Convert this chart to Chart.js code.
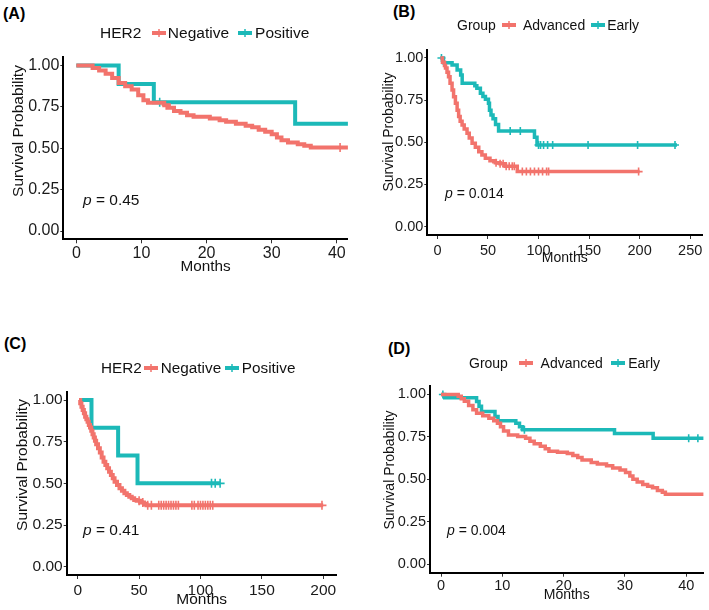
<!DOCTYPE html>
<html>
<head>
<meta charset="utf-8">
<script src="https://cdn.jsdelivr.net/npm/chart.js@4.4.1/dist/chart.umd.min.js"></script>
<style>
  html, body { margin: 0; padding: 0; background: #fff; }
  #fig { position: relative; width: 709px; height: 610px; overflow: hidden;
         font-family: "Liberation Sans", Arial, sans-serif; color: #111; }
  #fig canvas { position: absolute; }
  .t { position: absolute; white-space: nowrap; line-height: 20px; }
  .tag { font-weight: bold; font-size: 16px; color: #000; }
  .ylab { line-height: normal; transform: translate(-50%, -50%) rotate(-90deg); }
  .leg { display: flex; align-items: center; }
  .leg svg { display: block; }
</style>
</head>
<body>
<div id="fig">
  <canvas id="cA"></canvas>
  <canvas id="cB"></canvas>
  <canvas id="cC"></canvas>
  <canvas id="cD"></canvas>

  <div class="t tag" style="left:3px;top:4px">(A)</div>
  <div class="t tag" style="left:393px;top:2px">(B)</div>
  <div class="t tag" style="left:4px;top:334px">(C)</div>
  <div class="t tag" style="left:388px;top:339px">(D)</div>

  <div class="t leg" id="legA" style="left:100px;top:23px;font-size:15.5px"></div>
  <div class="t leg" id="legB" style="left:457px;top:15px;font-size:14px"></div>
  <div class="t leg" id="legC" style="left:101px;top:358px;font-size:15.3px"></div>
  <div class="t leg" id="legD" style="left:469px;top:353px;font-size:14px"></div>

  <div class="t" style="left:83px;top:190px;font-size:15.5px"><i>p</i> = 0.45</div>
  <div class="t" style="left:445px;top:183px;font-size:14px"><i>p</i> = 0.014</div>
  <div class="t" style="left:83px;top:520px;font-size:15.5px"><i>p</i> = 0.41</div>
  <div class="t" style="left:447px;top:520px;font-size:14px"><i>p</i> = 0.004</div>

  <div class="t ylab" style="left:18px;top:131px;font-size:15.5px">Survival Probability</div>
  <div class="t ylab" style="left:388px;top:132px;font-size:14px">Survival Probability</div>
  <div class="t ylab" style="left:22px;top:465px;font-size:15.5px">Survival Probability</div>
  <div class="t ylab" style="left:389px;top:470px;font-size:14px">Survival Probability</div>
</div>

<script>
const RED = '#F2736C';
const TEAL = '#1CB9B8';
const FONT = "'Liberation Sans', Arial, sans-serif";

const yTicks = [0, 0.25, 0.5, 0.75, 1];

// (A) HER2
const aTicks = [0, 10, 20, 30, 40];
const aNegTime = [0, 2.5, 3.5, 4.5, 5.5, 6.5, 7.5, 8.5, 9.5, 10.3, 11, 13.5, 14.2, 15, 16, 17, 18, 20.5, 22, 23, 24.5, 26, 27, 28, 29, 30, 30.8, 31.5, 32.5, 34, 35, 36, 42];
const aNegSurv = [1, 0.985, 0.97, 0.95, 0.925, 0.895, 0.875, 0.855, 0.82, 0.79, 0.775, 0.76, 0.745, 0.725, 0.715, 0.7, 0.69, 0.68, 0.67, 0.66, 0.648, 0.637, 0.627, 0.612, 0.6, 0.585, 0.565, 0.548, 0.535, 0.525, 0.515, 0.505, 0.505];
const aNegCens = [13.8, 40.5];
const aPosTime = [0, 6.5, 11.9, 33.6, 42];
const aPosSurv = [1, 0.889, 0.778, 0.648, 0.648];
const aPosCens = [12.8];

// (B) Group
const bTicks = [0, 50, 100, 150, 200, 250];
const bAdvTime = [3, 5, 7, 8, 9.5, 11, 12.5, 14.5, 16, 17.8, 19.5, 21, 22.5, 24.4, 26.5, 29.3, 31.5, 34.3, 37.5, 40.9, 44, 47.4, 52, 57.3, 62, 67.2, 79, 200];
const bAdvSurv = [1, 0.975, 0.955, 0.94, 0.915, 0.889, 0.85, 0.81, 0.77, 0.731, 0.69, 0.652, 0.625, 0.603, 0.578, 0.553, 0.525, 0.494, 0.47, 0.444, 0.425, 0.405, 0.39, 0.379, 0.372, 0.358, 0.326, 0.326];
const bAdvCens = [58, 62, 65, 68, 71, 74, 76, 84, 88, 92, 96, 100, 104, 108, 110, 199];
const bEarTime = [3, 6, 14.5, 19.5, 23, 24.5, 37, 39, 42.5, 45, 47.5, 50.5, 51.5, 53, 55, 57.5, 60.5, 94, 96, 98.5, 237];
const bEarSurv = [1, 0.972, 0.958, 0.929, 0.899, 0.85, 0.835, 0.82, 0.79, 0.772, 0.755, 0.731, 0.69, 0.662, 0.64, 0.605, 0.567, 0.567, 0.53, 0.484, 0.484];
const bEarCens = [4, 72, 82, 100, 102, 105, 109, 114, 149, 198, 235];

// (C) HER2
const cTicks = [0, 50, 100, 150, 200];
const cNegTime = [1, 2, 3, 4, 5, 6, 7, 8, 9, 10, 11, 12, 13, 14, 15, 16.5, 18, 19.5, 21, 22.5, 24, 25.5, 27, 28.5, 30, 32, 34, 36, 38, 40, 42, 44, 46, 48, 51, 54, 56, 200];
const cNegSurv = [1, 0.98, 0.96, 0.94, 0.92, 0.9, 0.885, 0.87, 0.85, 0.835, 0.815, 0.795, 0.775, 0.755, 0.735, 0.71, 0.685, 0.655, 0.63, 0.61, 0.59, 0.57, 0.55, 0.53, 0.51, 0.49, 0.47, 0.455, 0.44, 0.43, 0.42, 0.41, 0.4, 0.395, 0.385, 0.375, 0.368, 0.368];
const cNegCens = [50, 53, 57, 60, 66, 68, 70, 72, 74, 76, 78, 80, 82, 93, 95, 98, 100, 102, 104, 106, 108, 110, 199];
const cPosTime = [1, 11.2, 32.9, 48.7, 116];
const cPosSurv = [1, 0.833, 0.667, 0.5, 0.5];
const cPosCens = [109, 112, 116];

// (D) Group
const dTicks = [0, 10, 20, 30, 40];
const dAdvTime = [0, 2.8, 3.3, 3.8, 4.5, 5.2, 5.8, 6.8, 7.8, 8.6, 9.2, 9.7, 10.2, 11, 12.5, 13.8, 14.5, 15.2, 16.2, 17, 17.6, 19, 20.6, 21.5, 22.3, 23, 24.5, 25.5, 27, 28, 29.2, 30.1, 30.8, 31.3, 32, 32.9, 33.7, 34.5, 35.3, 36.1, 36.6, 43];
const dAdvSurv = [1, 0.99, 0.975, 0.96, 0.935, 0.91, 0.889, 0.875, 0.86, 0.845, 0.83, 0.81, 0.785, 0.762, 0.752, 0.742, 0.725, 0.71, 0.695, 0.68, 0.665, 0.66, 0.652, 0.64, 0.628, 0.614, 0.6, 0.59, 0.58, 0.567, 0.555, 0.54, 0.52, 0.5, 0.485, 0.47, 0.46, 0.45, 0.435, 0.424, 0.412, 0.412];
const dAdvCens = [];
const dEarTime = [0, 0.6, 5.8, 6.2, 6.6, 8.8, 9.3, 12.2, 12.8, 13.3, 28.3, 34.6, 43];
const dEarSurv = [1, 0.981, 0.958, 0.93, 0.9, 0.87, 0.845, 0.83, 0.81, 0.792, 0.77, 0.742, 0.742];
const dEarCens = [0.3, 13.6, 40.4, 41.9];

// survival value in force at time t
function survAt(time, surv, t) {
    let v = surv[0];
    for (let i = 0; i < time.length; i++) {
        if (time[i] <= t) v = surv[i];
    }
    return v;
}

function keySvg(color) {
    return `<svg width="14" height="12"><line x1="0" y1="6" x2="14" y2="6" stroke="${color}" stroke-width="4"/>` +
           `<line x1="7" y1="2" x2="7" y2="10" stroke="${color}" stroke-width="1.5"/></svg>`;
}

function buildLegend(id, title, names, gaps) {
    const el = document.getElementById(id);
    el.innerHTML =
        `<span style="margin-right:${gaps[0]}px">${title}</span>` + keySvg(RED) +
        `<span style="margin-left:${gaps[1]}px;margin-right:${gaps[2]}px">${names[0]}</span>` + keySvg(TEAL) +
        `<span style="margin-left:${gaps[3]}px">${names[1]}</span>`;
}

buildLegend('legA', 'HER2', ['Negative', 'Positive'], [11, 1.5, 9, 3]);
buildLegend('legB', 'Group', ['Advanced', 'Early'], [6, 7, 6, 2]);
buildLegend('legC', 'HER2', ['Negative', 'Positive'], [2.3, 2.7, 4, 2.7]);
buildLegend('legD', 'Group', ['Advanced', 'Early'], [10.7, 8, 8, 3.3]);

function makeChart(cfg) {
    const cv = document.getElementById(cfg.id);
    cv.width = cfg.w;
    cv.height = cfg.h;
    cv.style.left = cfg.left + 'px';
    cv.style.top = cfg.top + 'px';

    const datasets = [];
    cfg.series.forEach(s => {
        datasets.push({
            data: s.time.map((t, i) => ({ x: t, y: s.surv[i] })),
            borderColor: s.color,
            borderWidth: cfg.lw,
            stepped: true,
            pointRadius: 0,
            fill: false,
            borderJoinStyle: 'miter',
            borderCapStyle: 'butt'
        });
    });
    cfg.series.forEach(s => {
        datasets.push({
            data: s.cens.map(t => ({ x: t, y: survAt(s.time, s.surv, t) })),
            showLine: false,
            pointStyle: 'cross',
            pointRadius: cfg.cr,
            pointBorderWidth: 1.6,
            borderColor: s.color,
            backgroundColor: s.color
        });
    });

    return new Chart(cv, {
        type: 'line',
        data: { datasets: datasets },
        options: {
            responsive: false,
            animation: false,
            events: [],
            layout: { padding: { top: cfg.padTop, right: cfg.padRight, left: 0, bottom: 0 } },
            plugins: { legend: { display: false }, tooltip: { enabled: false } },
            scales: {
                x: {
                    type: 'linear',
                    min: cfg.xmin,
                    max: cfg.xmax,
                    afterBuildTicks: s => { s.ticks = cfg.xticks.map(v => ({ value: v })); },
                    afterFit: s => { s.height = cfg.xh; s.paddingLeft = 0; s.paddingRight = 0; },
                    grid: { drawOnChartArea: false, drawTicks: true, tickLength: 4, color: '#333', lineWidth: 1 },
                    border: { display: true, color: '#000', width: 2 },
                    ticks: { autoSkip: false, maxRotation: 0, padding: cfg.xpad, color: '#1a1a1a',
                             font: { family: FONT, size: cfg.fs } },
                    title: { display: true, text: 'Months', color: '#111',
                             font: { family: FONT, size: cfg.ts }, padding: { top: 0, bottom: cfg.titlePad } }
                },
                y: {
                    type: 'linear',
                    min: -0.05,
                    max: 1.05,
                    afterBuildTicks: s => { s.ticks = yTicks.map(v => ({ value: v })); },
                    afterFit: s => { s.width = cfg.yw; s.paddingTop = 0; s.paddingBottom = 0; },
                    grid: { drawOnChartArea: false, drawTicks: true, tickLength: 3, color: '#333', lineWidth: 1 },
                    border: { display: true, color: '#000', width: 2 },
                    ticks: { autoSkip: false, padding: 1, color: '#1a1a1a',
                             font: { family: FONT, size: cfg.fs },
                             callback: v => Number(v).toFixed(2) }
                }
            }
        }
    });
}

makeChart({
    id: 'cA', left: 0, top: 40, w: 354, h: 250,
    yw: 63.3, padTop: 17.3, padRight: 0, xh: 50.7,
    xmin: -2.0, xmax: 41.7, xticks: aTicks,
    fs: 16, ts: 15.3, titlePad: 14, xpad: 1, lw: 4, cr: 4.5,
    series: [
        { time: aNegTime, surv: aNegSurv, cens: aNegCens, color: RED },
        { time: aPosTime, surv: aPosSurv, cens: aPosCens, color: TEAL }
    ]
});

makeChart({
    id: 'cB', left: 354, top: 30, w: 355, h: 250,
    yw: 73.3, padTop: 19.5, padRight: 6.7, xh: 45,
    xmin: -10, xmax: 262, xticks: bTicks,
    fs: 14.5, ts: 14, titlePad: 13.3, xpad: 3, lw: 3.5, cr: 4,
    series: [
        { time: bAdvTime, surv: bAdvSurv, cens: bAdvCens, color: RED },
        { time: bEarTime, surv: bEarSurv, cens: bEarCens, color: TEAL }
    ]
});

makeChart({
    id: 'cC', left: 0, top: 370, w: 354, h: 240,
    yw: 66.7, padTop: 21.7, padRight: 17.3, xh: 35,
    xmin: -9, xmax: 211, xticks: cTicks,
    fs: 15.5, ts: 15.5, titlePad: 0.7, xpad: 2, lw: 4, cr: 4.5,
    series: [
        { time: cNegTime, surv: cNegSurv, cens: cNegCens, color: RED },
        { time: cPosTime, surv: cPosSurv, cens: cPosCens, color: TEAL }
    ]
});

makeChart({
    id: 'cD', left: 354, top: 370, w: 355, h: 240,
    yw: 76, padTop: 16, padRight: 0, xh: 37.3,
    xmin: -1.8, xmax: 42.8, xticks: dTicks,
    fs: 14.5, ts: 14, titlePad: 6.6, xpad: 1, lw: 3.5, cr: 4,
    series: [
        { time: dAdvTime, surv: dAdvSurv, cens: dAdvCens, color: RED },
        { time: dEarTime, surv: dEarSurv, cens: dEarCens, color: TEAL }
    ]
});
</script>
</body>
</html>
